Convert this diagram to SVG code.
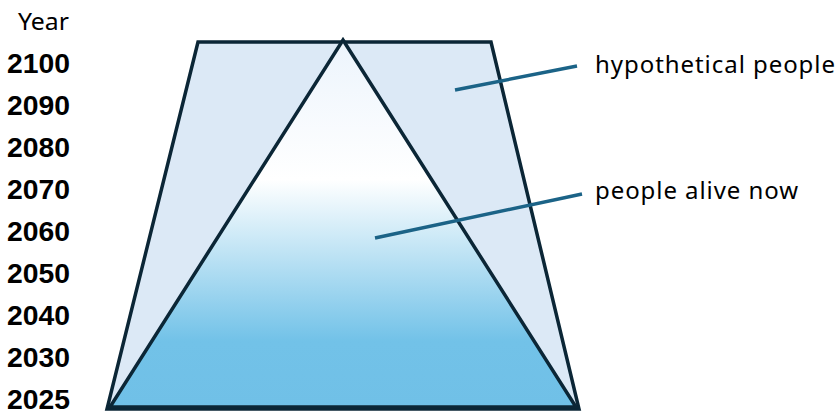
<svg xmlns="http://www.w3.org/2000/svg" width="838" height="414" viewBox="0 0 838 414">
<style>
.yr{font-family:"Liberation Sans",Arial,sans-serif;font-weight:bold;font-size:27px;fill:#000}
.lab{font-family:"Noto Sans","Open Sans",sans-serif;font-size:24px;fill:#000}
.shape{stroke:#0b2636;stroke-width:3.5;stroke-linejoin:miter}
.ptr{stroke:#1b6387;stroke-width:3.5;fill:none}
</style>
<defs>
<linearGradient id="g" x1="0" y1="40" x2="0" y2="407" gradientUnits="userSpaceOnUse">
<stop offset="0" stop-color="#ecf4fc"/>
<stop offset="0.38" stop-color="#ffffff"/>
<stop offset="0.82" stop-color="#72c2e8"/>
<stop offset="1" stop-color="#70c0e7"/>
</linearGradient>
</defs>
<g id="axis">
<text x="18" y="30" class="lab" textLength="51" lengthAdjust="spacingAndGlyphs">Year</text>
<text x="7" y="73" class="yr" textLength="63" lengthAdjust="spacingAndGlyphs">2100</text>
<text x="7" y="115" class="yr" textLength="63" lengthAdjust="spacingAndGlyphs">2090</text>
<text x="7" y="157" class="yr" textLength="63" lengthAdjust="spacingAndGlyphs">2080</text>
<text x="7" y="199" class="yr" textLength="63" lengthAdjust="spacingAndGlyphs">2070</text>
<text x="7" y="241" class="yr" textLength="63" lengthAdjust="spacingAndGlyphs">2060</text>
<text x="7" y="283" class="yr" textLength="63" lengthAdjust="spacingAndGlyphs">2050</text>
<text x="7" y="325" class="yr" textLength="63" lengthAdjust="spacingAndGlyphs">2040</text>
<text x="7" y="367" class="yr" textLength="63" lengthAdjust="spacingAndGlyphs">2030</text>
<text x="7" y="409" class="yr" textLength="63" lengthAdjust="spacingAndGlyphs">2025</text>
</g>
<g id="hypothetical">
<polygon class="shape" points="198,42 491,42 579,409 107,409" fill="#dce9f6"/>
</g>
<g id="alive">
<polygon class="shape" points="343,40 576,407 110,407" fill="url(#g)"/>
</g>
<g id="connectors">
<line class="ptr" x1="455" y1="90" x2="577" y2="66"/>
<line class="ptr" x1="375" y1="238" x2="582" y2="194"/>
</g>
<g id="labels">
<text x="595" y="72.5" class="lab" textLength="240" lengthAdjust="spacing">hypothetical people</text>
<text x="595" y="198.5" class="lab" textLength="203" lengthAdjust="spacing">people alive now</text>
</g>
</svg>
